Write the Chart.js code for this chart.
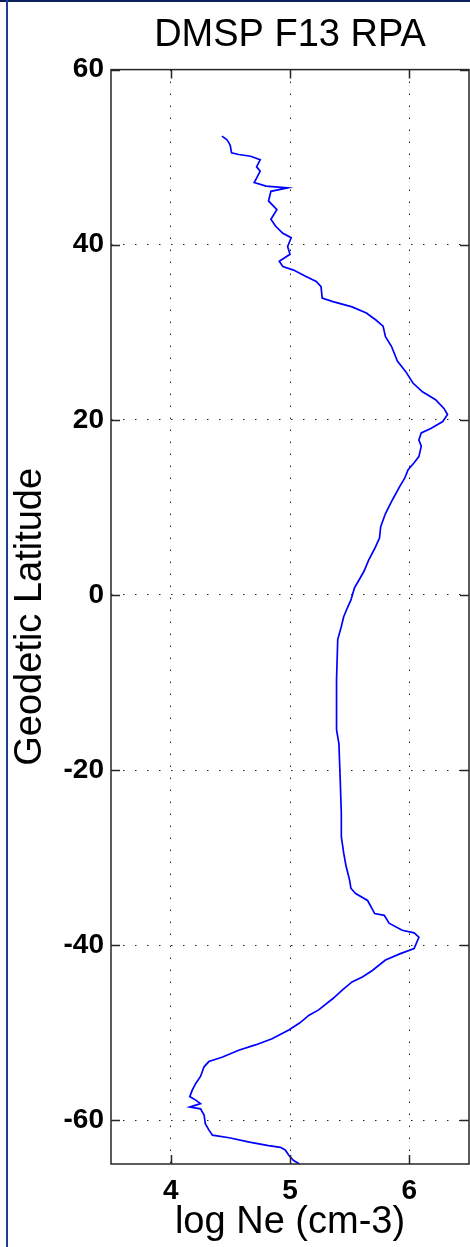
<!DOCTYPE html>
<html>
<head>
<meta charset="utf-8">
<title>DMSP F13 RPA</title>
<script src="https://cdn.jsdelivr.net/npm/chart.js@4.4.1/dist/chart.umd.min.js"></script>
<style>
  html, body { margin: 0; padding: 0; background: #fff; }
  #wrap { width: 470px; height: 1247px; }
</style>
</head>
<body>
<div id="wrap"><canvas id="myChart" width="470" height="1247"></canvas></div>
<script>
// profil verileri: kuzeyden guneye
var latitude = [
  52.4, 52.0, 51.6, 51.3, 50.5, 50.3, 50.1, 49.7, 48.9, 48.4,
  47.6, 47.1, 46.7, 46.5, 46.1, 45.0, 44.0, 42.9, 42.1, 41.3,
  40.8, 39.8, 38.9, 38.1, 37.5, 37.1, 36.4, 35.8, 35.2, 33.9,
  33.5, 32.9, 32.2, 31.4, 30.7, 29.5, 28.4, 26.7, 25.5, 24.2,
  23.2, 22.3, 21.3, 20.6, 19.8, 19.0, 18.5, 17.7, 17.0, 15.8,
  15.1, 14.3, 13.3, 12.4, 10.9, 9.3, 7.8, 6.5, 5.3, 4.0,
  2.7, 1.5, 0.8, -0.6, -1.5, -2.5, -3.6, -5.1, -9.7, -12.0,
  -15.4, -17.0, -20.8, -24.9, -27.6, -29.5, -31.0, -32.6, -33.5, -34.1,
  -34.9, -36.4, -36.6, -37.5, -38.3, -38.6, -39.1, -40.4, -41.0, -41.7,
  -42.9, -43.6, -44.2, -45.1, -46.1, -47.4, -48.0, -48.9, -49.7, -50.7,
  -51.4, -52.0, -52.8, -53.3, -53.9, -55.0, -55.8, -56.6, -57.3, -57.7,
  -58.1, -58.5, -58.7, -59.4, -60.4, -61.1, -61.7, -62.0, -62.5, -62.9,
  -63.1, -63.4, -64.0, -64.6, -65.0
];
var logNe = [
  4.43, 4.47, 4.49, 4.50, 4.51, 4.57, 4.67, 4.75, 4.72, 4.75,
  4.72, 4.70, 4.80, 4.98, 4.84, 4.82, 4.89, 4.84, 4.88, 4.94,
  5.01, 4.98, 5.00, 4.91, 4.94, 5.03, 5.13, 5.22, 5.26, 5.27,
  5.36, 5.52, 5.64, 5.72, 5.78, 5.80, 5.85, 5.90, 5.97, 6.03,
  6.11, 6.22, 6.29, 6.32, 6.28, 6.18, 6.10, 6.08, 6.10, 6.08,
  6.04, 5.99, 5.96, 5.92, 5.86, 5.80, 5.76, 5.75, 5.71, 5.66,
  5.62, 5.57, 5.54, 5.51, 5.48, 5.45, 5.43, 5.40, 5.39, 5.39,
  5.39, 5.41, 5.42, 5.43, 5.43, 5.45, 5.47, 5.50, 5.51, 5.55,
  5.65, 5.71, 5.79, 5.83, 5.94, 6.04, 6.08, 6.04, 5.92, 5.80,
  5.69, 5.61, 5.52, 5.44, 5.36, 5.24, 5.16, 5.08, 4.99, 4.85,
  4.71, 4.57, 4.43, 4.32, 4.28, 4.25, 4.21, 4.18, 4.16, 4.21,
  4.25, 4.16, 4.25, 4.28, 4.29, 4.32, 4.35, 4.49, 4.66, 4.82,
  4.92, 4.96, 4.99, 5.03, 5.08
];
var xTicks = [4, 5, 6];
var yTicks = [-60, -40, -20, 0, 20, 40, 60];

Chart.defaults.font.family = "'Liberation Sans', Arial, sans-serif";
Chart.defaults.color = '#000';

// cerceve, icten tik cizgileri
var frame = {
  id: 'frame',
  beforeDraw: function (chart) {
    var c = chart.ctx;
    c.save();
    c.fillStyle = '#fff';
    c.fillRect(0, 0, chart.width, chart.height);
    c.fillStyle = '#0b1f5c';
    c.fillRect(0, 0, chart.width, 2);
    c.fillStyle = '#1c3d9c';
    c.fillRect(6, 0, 2, chart.height);
    c.restore();
  },
  afterDatasetsDraw: function (chart) {
    var a = chart.chartArea, c = chart.ctx;
    var xs = chart.scales.x, ys = chart.scales.y;
    c.save();
    c.strokeStyle = '#262626';
    c.lineWidth = 1.5;
    c.strokeRect(a.left, a.top, a.right - a.left, a.bottom - a.top);
    c.beginPath();
    xs.ticks.forEach(function (t) {
      var px = Math.round(xs.getPixelForValue(t.value)) + 0.5;
      c.moveTo(px, a.bottom); c.lineTo(px, a.bottom - 9);
      c.moveTo(px, a.top); c.lineTo(px, a.top + 9);
    });
    ys.ticks.forEach(function (t) {
      var py = Math.round(ys.getPixelForValue(t.value)) + 0.5;
      c.moveTo(a.left, py); c.lineTo(a.left + 9, py);
      c.moveTo(a.right, py); c.lineTo(a.right - 9, py);
    });
    c.stroke();
    c.restore();
  }
};

var points = latitude.map(function (lat, i) { return { x: logNe[i], y: lat }; });

var ctx = document.getElementById('myChart').getContext('2d');
var myChart = new Chart(ctx, {
  type: 'scatter',
  data: {
    datasets: [{
      data: points,
      showLine: true,
      borderColor: '#0000ff',
      borderWidth: 1.7,
      pointRadius: 0,
      tension: 0,
      fill: false
    }]
  },
  options: {
    responsive: false,
    animation: false,
    devicePixelRatio: 1,
    layout: { padding: { top: 0, right: 1, bottom: 0, left: 0 } },
    plugins: {
      legend: { display: false },
      tooltip: { enabled: false },
      title: {
        display: true,
        text: 'DMSP F13 RPA',
        fullSize: false,
        color: '#000',
        font: { size: 38, weight: 'normal' },
        padding: { top: 13, bottom: 11 }
      }
    },
    scales: {
      x: {
        type: 'linear',
        min: 3.5,
        max: 6.5,
        afterFit: function (s) { s.height = 83; },
        afterBuildTicks: function (s) { s.ticks = xTicks.map(function (v) { return { value: v }; }); },
        grid: { color: '#222', lineWidth: 1, drawTicks: false },
        border: { display: false, dash: [1.5, 10.5] },
        ticks: { padding: 10, font: { size: 28, weight: 'bold' }, maxRotation: 0 },
        title: { display: true, text: 'log Ne (cm-3)', font: { size: 38 }, padding: { top: 0, bottom: 2 } }
      },
      y: {
        type: 'linear',
        min: -65,
        max: 60,
        afterFit: function (s) { s.width = 111; },
        afterBuildTicks: function (s) { s.ticks = yTicks.map(function (v) { return { value: v }; }); },
        grid: { color: '#222', lineWidth: 1, drawTicks: false },
        border: { display: false, dash: [1.5, 10.5] },
        ticks: { padding: 7, font: { size: 28, weight: 'bold' } },
        title: { display: true, text: 'Geodetic Latitude', font: { size: 38 }, padding: { top: 8, bottom: 0 } }
      }
    }
  },
  plugins: [frame]
});
</script>
</body>
</html>
